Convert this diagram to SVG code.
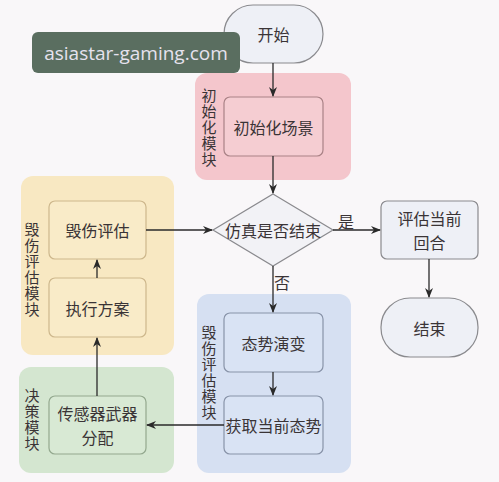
<svg xmlns="http://www.w3.org/2000/svg" width="499" height="482" viewBox="0 0 499 482">
<defs>
<marker id="ah" markerWidth="10" markerHeight="8" refX="9" refY="4" orient="auto" markerUnits="userSpaceOnUse">
<path d="M0,0 L10,4 L0,8 L3,4 Z" fill="#2a2a2a"/>
</marker>
</defs>
<style>
text{font-family:"Noto Sans CJK SC","Noto Sans",sans-serif;fill:#3a3436;font-size:16px;text-anchor:middle;dominant-baseline:central}
.vl{font-size:15px;writing-mode:vertical-rl;text-orientation:upright;letter-spacing:1px;text-anchor:start}
.term{fill:#eef0f6;stroke:#8a8a8e;stroke-width:1.2}
.con{stroke:#2a2a2a;stroke-width:1.3;fill:none;marker-end:url(#ah)}
</style>
<rect width="499" height="482" fill="#f9f7f9"/>
<!-- modules -->
<g id="mod-init">
<rect x="195" y="73" width="156" height="107" rx="12" fill="#f4c6cc"/>
<text class="vl" x="209" y="88">初始化模块</text>
</g>
<g id="mod-damage1">
<rect x="21" y="176" width="153" height="179" rx="12" fill="#f8e8c2"/>
<text class="vl" x="32" y="222">毁伤评估模块</text>
</g>
<g id="mod-damage2">
<rect x="197" y="294" width="154" height="179" rx="12" fill="#d6e0f2"/>
<text class="vl" x="209" y="325">毁伤评估模块</text>
</g>
<g id="mod-decision">
<rect x="19" y="367" width="155" height="106" rx="12" fill="#d4e6d0"/>
<text class="vl" x="32" y="388">决策模块</text>
</g>
<!-- nodes -->
<g id="start">
<rect class="term" x="224" y="5" width="99" height="58" rx="29"/>
<text x="273.5" y="34">开始</text>
</g>
<g id="init-scene">
<rect x="224" y="97" width="99" height="59" rx="6" fill="#f5cdd2" stroke="#a98286" stroke-width="1.2"/>
<text x="273.5" y="126.5">初始化场景</text>
</g>
<g id="decision">
<polygon points="273,194 333,230 273,266 213,230" fill="#f2f2f6" stroke="#8a8a8e" stroke-width="1.2"/>
<text x="273" y="230">仿真是否结束</text>
</g>
<g id="damage-eval">
<rect x="49" y="201" width="97" height="58" rx="6" fill="#f9ebc8" stroke="#cdb78c" stroke-width="1.2"/>
<text x="97.5" y="230">毁伤评估</text>
</g>
<g id="exec-plan">
<rect x="49" y="278" width="97" height="59" rx="6" fill="#f9ebc8" stroke="#cdb78c" stroke-width="1.2"/>
<text x="97.5" y="307.5">执行方案</text>
</g>
<g id="eval-round">
<rect x="381" y="201" width="97" height="58" rx="6" fill="#eef0f6" stroke="#8a8a8e" stroke-width="1.2"/>
<text x="429.5" y="218"><tspan x="429.5">评估当前</tspan><tspan x="429.5" dy="24">回合</tspan></text>
</g>
<g id="end">
<rect class="term" x="381" y="298" width="97" height="59" rx="29"/>
<text x="429.5" y="327.5">结束</text>
</g>
<g id="evolve">
<rect x="224" y="313" width="99" height="59" rx="6" fill="#d9e3f4" stroke="#8893a8" stroke-width="1.2"/>
<text x="273.5" y="342.5">态势演变</text>
</g>
<g id="get-state">
<rect x="224" y="396" width="99" height="58" rx="6" fill="#d9e3f4" stroke="#8893a8" stroke-width="1.2"/>
<text x="273.5" y="425">获取当前态势</text>
</g>
<g id="alloc">
<rect x="49" y="396" width="97" height="58" rx="6" fill="#d8e9d4" stroke="#93a88e" stroke-width="1.2"/>
<text x="97.5" y="413"><tspan x="97.5">传感器武器</tspan><tspan x="97.5" dy="24">分配</tspan></text>
</g>
<!-- connectors -->
<g id="connectors">
<line class="con" x1="273" y1="63" x2="273" y2="96"/>
<line class="con" x1="273" y1="156" x2="273" y2="193"/>
<line class="con" x1="146" y1="230" x2="212" y2="230"/>
<line class="con" x1="333" y1="230" x2="380" y2="230"/>
<line class="con" x1="429" y1="259" x2="429" y2="297"/>
<line class="con" x1="273" y1="266" x2="273" y2="312"/>
<line class="con" x1="273" y1="372" x2="273" y2="395"/>
<line class="con" x1="224" y1="425" x2="147" y2="425"/>
<line class="con" x1="97" y1="396" x2="97" y2="338"/>
<line class="con" x1="97" y1="278" x2="97" y2="260"/>
<text x="346" y="221">是</text>
<text x="282" y="282">否</text>
</g>
<!-- watermark -->
<g id="watermark">
<rect x="32" y="32" width="208" height="41" rx="6" fill="#5a6e60"/>
<text x="136" y="52.5" style="fill:#e6e2ee;font-family:'Open Sans','Noto Sans',sans-serif;font-size:19px">asiastar-gaming.com</text>
</g>
</svg>
